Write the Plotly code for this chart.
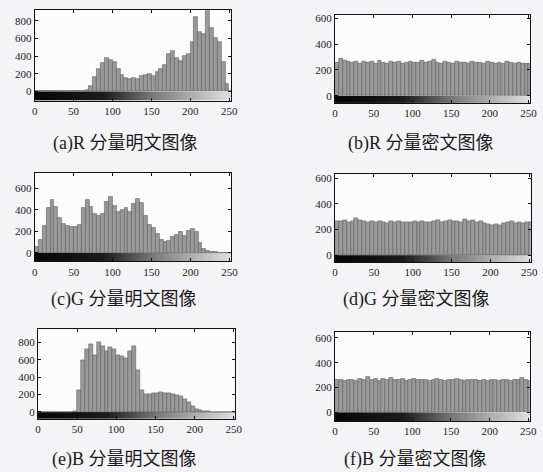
import plotly.graph_objects as go

# intensity bins (start of each 5-level bin)
levels = list(range(0, 255, 5))

# (a) R plain image histogram (count per level)
r_plain = [0, 0, 0, 0, 0, 0, 0, 0, 0, 0, 0, 0,
           2, 15, 60, 160, 250, 320, 380, 360, 330, 260,
           190, 150, 140, 150, 140, 170, 190, 200, 180, 220,
           250, 300, 430, 460, 380, 340, 400, 430, 560, 840,
           680, 650, 910, 720, 610, 560, 330, 90, 10]
# (b) R cipher image histogram
r_cipher = [255, 290, 275, 262, 258, 265, 250, 268, 255, 262, 248, 270, 258,
            252, 266, 256, 262, 250, 258, 264, 255, 260, 272, 258, 262, 280,
            256, 250, 264, 258, 252, 266, 255, 260, 248, 262, 254, 258, 250,
            264, 256, 252, 258, 248, 262, 255, 250, 258, 246, 252, 248]
# (c) G plain image histogram
g_plain = [50, 120, 250, 420, 490, 430, 330, 270, 250, 240, 240, 260,
           420, 490, 430, 360, 340, 360, 480, 520, 440, 380,
           400, 420, 380, 460, 500, 470, 340, 260, 230, 180,
           120, 100, 110, 150, 170, 190, 160, 200, 220, 190,
           90, 40, 20, 10, 5, 2, 0, 0, 0]
# (d) G cipher image histogram
g_cipher = [262, 268, 272, 258, 265, 290, 270, 262, 258, 266, 255, 262, 258,
            250, 264, 256, 268, 258, 260, 254, 262, 258, 266, 260, 255, 262,
            270, 258, 264, 276, 262, 268, 258, 282, 265, 270, 258, 262, 250,
            245, 238, 242, 236, 250, 258, 262, 252, 258, 250, 260, 255]
# (e) B plain image histogram
b_plain = [0, 0, 0, 0, 0, 0, 0, 0, 0, 5, 250, 600,
           720, 780, 650, 800, 760, 700, 740, 720, 650, 640,
           620, 700, 760, 480, 250, 200, 200, 220, 210, 230,
           220, 210, 200, 190, 180, 150, 110, 60, 30, 15,
           8, 3, 0, 0, 0, 0, 0, 0, 0]
# (f) B cipher image histogram
b_cipher = [258, 262, 255, 264, 258, 252, 266, 260, 285, 262, 270, 255, 268,
            260, 274, 258, 262, 266, 255, 260, 270, 262, 258, 264, 256, 262,
            268, 258, 254, 262, 258, 266, 260, 255, 262, 258, 264, 252, 260,
            256, 262, 258, 255, 264, 260, 256, 262, 258, 276, 260, 255]

captions = ["(a)R 分量明文图像", "(b)R 分量密文图像",
            "(c)G 分量明文图像", "(d)G 分量密文图像",
            "(e)B 分量明文图像", "(f)B 分量密文图像"]
x_ticks = [0, 50, 100, 150, 200, 250]
y_ticks_800 = [0, 200, 400, 600, 800]
y_ticks_600 = [0, 200, 400, 600]
gray_levels = list(range(256))

W, H = 543, 472
# layout: (x0px, x1px, top px, bottom px, yrange, yticks, caption x, caption y)
panels = [
    (r_plain, 32.3, 232.0, 7.0, 98.3, [-105, 924], y_ticks_800, 124, 141),
    (r_cipher, 338.3, 537.0, 11.7, 100.7, [-55, 627], y_ticks_600, 426, 141),
    (g_plain, 32.3, 232.3, 171.0, 260.0, [-81, 747], y_ticks_600, 123, 298),
    (g_cipher, 338.3, 537.7, 172.3, 260.7, [-54, 633], y_ticks_600, 421, 298),
    (b_plain, 35.7, 236.7, 328.3, 418.5, [-80, 951], y_ticks_800, 123, 459),
    (b_cipher, 338.3, 536.7, 331.0, 420.7, [-70, 648], y_ticks_600, 420, 459),
]

serif = "Liberation Serif, DejaVu Serif, serif"
fig = go.Figure()
layout = dict(width=W, height=H, margin=dict(l=0, r=0, t=0, b=0),
              paper_bgcolor="#f4f4f6", plot_bgcolor="#fcfcfc",
              showlegend=False, bargap=0, annotations=[])

for i, (vals, x0, x1, top, bot, yr, yt, cx, cy) in enumerate(panels):
    n = i + 1
    xa = "x" if n == 1 else f"x{n}"
    ya = "y" if n == 1 else f"y{n}"
    # gray-level gradient bar below zero
    fig.add_trace(go.Heatmap(
        z=[gray_levels], x=gray_levels, y=[yr[0], 0],
        colorscale=[[0, "#050505"], [0.35, "#1c1c1c"], [0.6, "#7a7a7a"],
                    [0.85, "#bdbdbd"], [1, "#e2e2e2"]],
        showscale=False, zsmooth=False, hoverinfo="skip",
        xaxis=xa, yaxis=ya))
    fig.add_trace(go.Bar(
        x=levels, y=vals, width=5, offset=0,
        marker=dict(color="#9a9a9a", line=dict(color="#5e5e5e", width=0.6)),
        xaxis=xa, yaxis=ya))
    common = dict(showline=True, linecolor="#111", linewidth=1, mirror="ticks",
                  ticks="inside", ticklen=3, tickcolor="#111",
                  showgrid=False, zeroline=False,
                  tickfont=dict(family=serif, size=11, color="#1a1a1a"))
    layout["xaxis" if n == 1 else f"xaxis{n}"] = dict(
        domain=[x0 / W, x1 / W], range=[0, 252], anchor=ya,
        tickvals=x_ticks, **common)
    layout["yaxis" if n == 1 else f"yaxis{n}"] = dict(
        domain=[1 - bot / H, 1 - top / H], range=yr, anchor=xa,
        tickvals=yt, **common)
    layout["annotations"].append(dict(
        text=captions[i], x=cx / W, y=1 - cy / H, xref="paper", yref="paper",
        xanchor="center", yanchor="middle", showarrow=False,
        font=dict(family="Liberation Serif, Noto Sans CJK SC", size=18,
                  color="#1a1a1a")))

fig.update_layout(**layout)
fig.write_html("out.html",
               config={"displayModeBar": False},
               post_script="document.body.style.margin='0px';"
                           "document.body.style.overflow='hidden';")
